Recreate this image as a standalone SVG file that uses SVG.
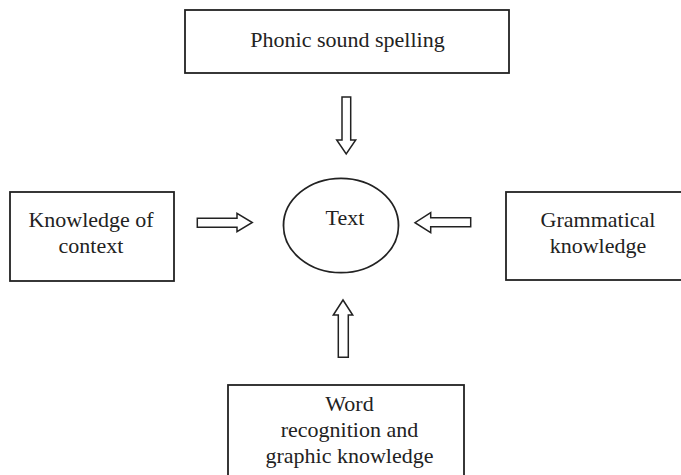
<svg xmlns="http://www.w3.org/2000/svg" width="681" height="475" viewBox="0 0 681 475">
<style>
.box{fill:#fff;stroke:#222;stroke-width:1.8}
.arr{fill:#fff;stroke:#222;stroke-width:1.5;stroke-linejoin:miter}
.t{font-family:'Liberation Serif','Times New Roman','DejaVu Serif',serif;font-size:22px;fill:#222;text-anchor:middle}
</style>
<rect width="681" height="475" fill="#fff"/>
<g id="connectors">
<path class="arr" d="M342,97 H350.7 V140 H355.7 L346.2,154 L336.7,140 H342 Z"/>
<path class="arr" d="M197.3,218.3 H237 V213.3 L252.3,222.5 L237,231.7 V227.3 H197.3 Z"/>
<path class="arr" d="M470.7,217.7 H430.7 V212.7 L415,222.7 L430.7,232.7 V226.7 H470.7 Z"/>
<path class="arr" d="M338.3,357.3 V315 H333.3 L343,300 L352.7,315 H348.3 V357.3 Z"/>
</g>
<g id="phonic">
<rect class="box" x="185" y="10" width="324" height="63"/>
<text class="t" x="347.5" y="47" font-family="Liberation Serif, serif">Phonic sound spelling</text>
</g>
<g id="context">
<rect class="box" x="10" y="192" width="164" height="89"/>
<text class="t" x="91" y="227">Knowledge of</text>
<text class="t" x="91" y="253">context</text>
</g>
<g id="text">
<ellipse class="box" cx="341" cy="225.5" rx="57.5" ry="47.2"/>
<text class="t" x="345" y="225">Text</text>
</g>
<g id="grammar">
<rect class="box" x="506" y="192" width="180" height="88"/>
<text class="t" x="598" y="227">Grammatical</text>
<text class="t" x="598" y="253">knowledge</text>
</g>
<g id="word">
<rect class="box" x="228" y="385" width="236" height="100"/>
<text class="t" x="349.5" y="411">Word</text>
<text class="t" x="349.5" y="437">recognition and</text>
<text class="t" x="349.5" y="463">graphic knowledge</text>
</g>
</svg>
